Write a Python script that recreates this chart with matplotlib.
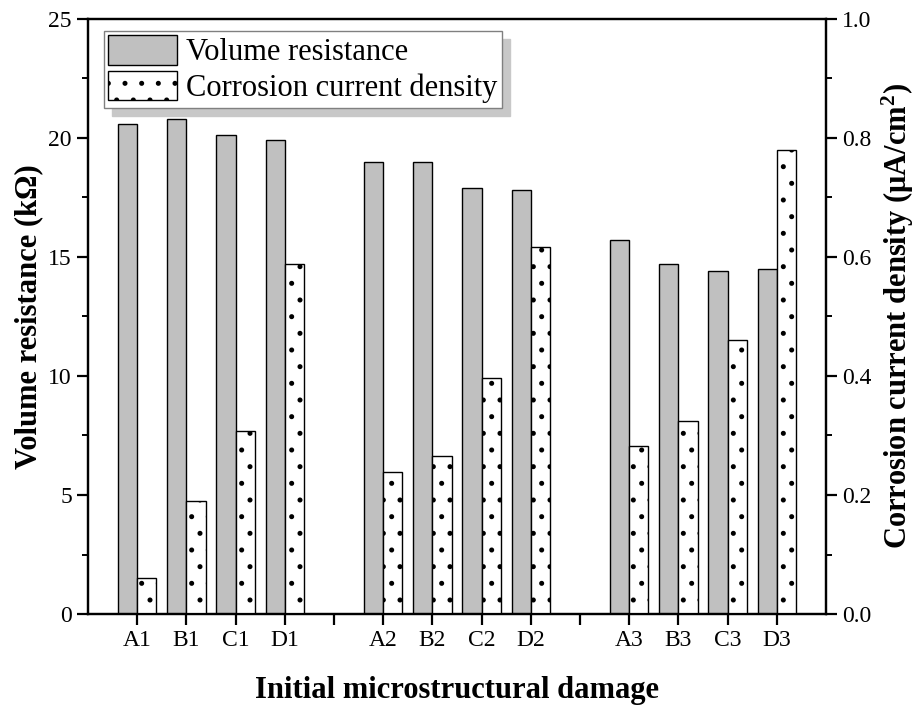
import numpy as np
import matplotlib.pyplot as plt
from matplotlib.ticker import MultipleLocator

plt.rcParams['font.family'] = ['Liberation Serif', 'DejaVu Serif']
plt.rcParams['hatch.linewidth'] = 1.2
plt.rcParams['mathtext.fontset'] = 'custom'
plt.rcParams['mathtext.rm'] = 'Liberation Serif'
plt.rcParams['mathtext.bf'] = 'Liberation Serif:bold'

# data
labels = ['A1', 'B1', 'C1', 'D1', '', 'A2', 'B2', 'C2', 'D2', '', 'A3', 'B3', 'C3', 'D3']
samples = ['A1', 'B1', 'C1', 'D1', 'A2', 'B2', 'C2', 'D2', 'A3', 'B3', 'C3', 'D3']
positions = [1, 2, 3, 4, 6, 7, 8, 9, 11, 12, 13, 14]
resistance = [20.6, 20.8, 20.1, 19.9, 19.0, 19.0, 17.9, 17.8, 15.7, 14.7, 14.4, 14.5]
current = [0.060, 0.190, 0.308, 0.588, 0.238, 0.266, 0.396, 0.616, 0.282, 0.324, 0.460, 0.780]

fig = plt.figure(figsize=(9.22, 7.07), dpi=100)
ax = fig.add_axes([0.0954, 0.1315, 0.8006, 0.842])
ax2 = ax.twinx()

w = 0.39
x = np.array(positions)
b1 = ax.bar(x - w / 2, resistance, w, color='#c0c0c0', edgecolor='black', linewidth=1.0,
            label='Volume resistance')
b2 = ax2.bar(x + w / 2, current, w, color='white', edgecolor='black', linewidth=1.0,
             hatch='.', label='Corrosion current density')

ax.set_xlim(0, 15)
ax.set_ylim(0, 25)
ax2.set_ylim(0, 1.0)
ax.set_xticks(range(1, 15))
ax.set_xticklabels(labels)
ax.yaxis.set_major_locator(MultipleLocator(5))
ax.yaxis.set_minor_locator(MultipleLocator(2.5))
ax2.set_yticks([0.0, 0.2, 0.4, 0.6, 0.8, 1.0])
ax2.set_yticklabels(['0.0', '0.2', '0.4', '0.6', '0.8', '1.0'])
ax2.yaxis.set_minor_locator(MultipleLocator(0.1))

for a in (ax, ax2):
    for s in a.spines.values():
        s.set_linewidth(1.6)
    a.tick_params(which='major', direction='out', length=8, width=1.6, labelsize=17)
    a.tick_params(which='minor', direction='out', length=4, width=1.4)

ax.set_ylabel('Volume resistance (k\u03a9)', fontsize=22, fontweight='bold', labelpad=4)
ax2.set_ylabel('Corrosion current density (\u03bcA/cm$\\mathbf{^2}$)', fontsize=22,
               fontweight='bold', labelpad=6)
ax.set_xlabel('Initial microstructural damage', fontsize=22, fontweight='bold', labelpad=18)

leg = ax.legend([b1, b2], ['Volume resistance', 'Corrosion current density'],
                loc='upper left', bbox_to_anchor=(0.013, 0.99), fontsize=22,
                frameon=True, fancybox=False,
                shadow={'color': '#c8c8c8', 'alpha': 1, 'ox': 6, 'oy': -6},
                borderpad=0.15, handlelength=2.25, handleheight=1.1, handletextpad=0.3,
                labelspacing=0.12, borderaxespad=0.2)
leg.get_frame().set_edgecolor('#808080')
leg.get_frame().set_linewidth(1.0)

fig.savefig('out.png', dpi=100)
